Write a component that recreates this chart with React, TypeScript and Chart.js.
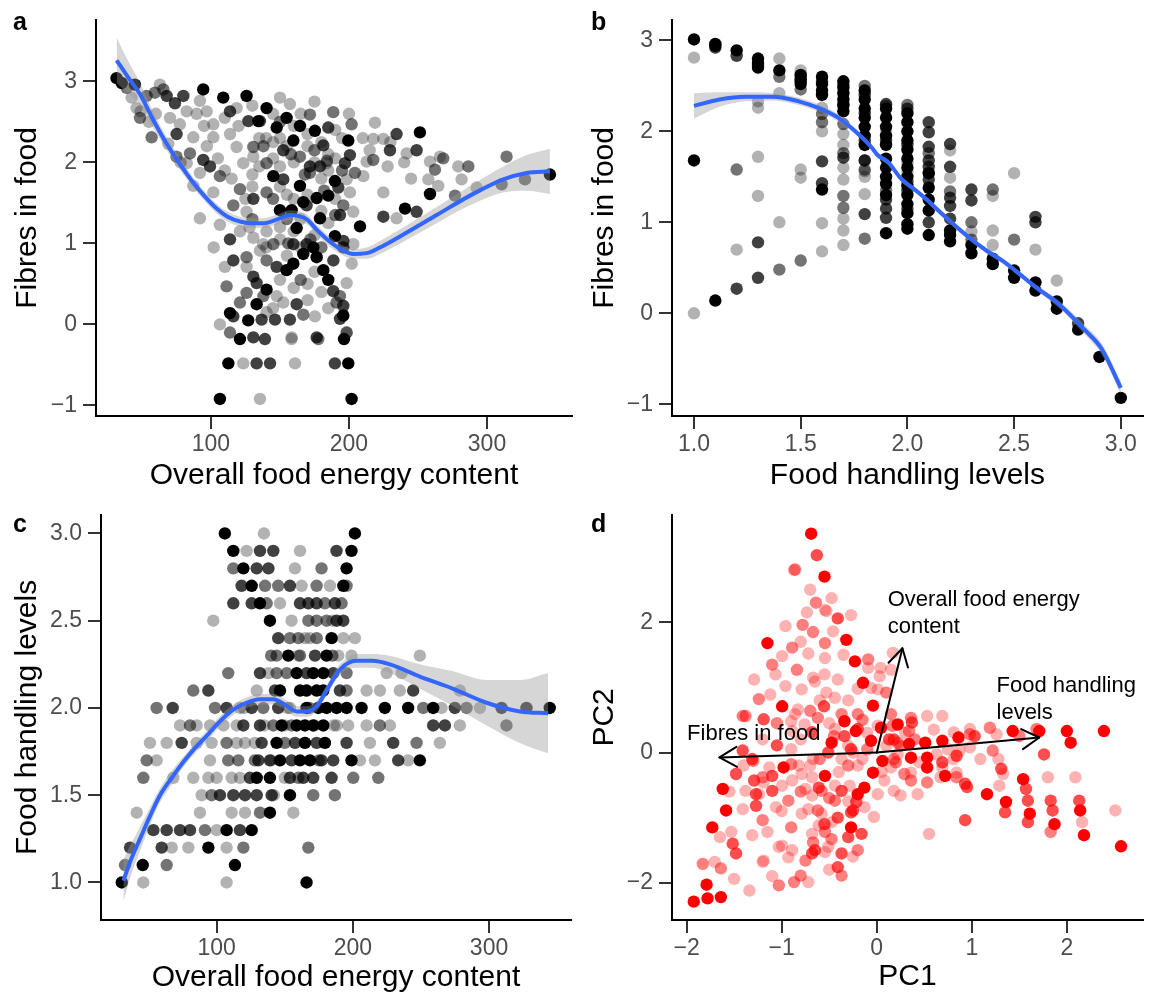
import React, { useEffect, useRef } from "react";
import { Chart, registerables } from "chart.js";

Chart.register(...registerables);

type Pt = [number, number];
const FONT = '"Liberation Sans", Arial, Helvetica, sans-serif';
Chart.defaults.font.family = FONT;

// ---------------- Panel a : Overall food energy content vs Fibres in food ----------------
const aBlack: Pt[] = [[31.6,3.04],[35.3,2.98],[44.9,2.96],[94.4,2.9],[108.9,2.8],[125.8,2.82],[140.3,2.67],[134.3,2.51],[147.6,2.43],[154.8,2.55],[164.5,2.45],[175.3,2.39],[159.7,2.27],[199.5,2.27],[189.8,1.77],[145.2,1.83],[164.5,1.71],[166.9,1.51],[176.6,1.56],[185,1.59],[158.5,1.41],[150,1.41],[179,1.31],[162.1,1.19],[189.8,1.09],[208,1.21],[174.2,0.95],[166.9,0.87],[176.6,0.83],[159.7,0.75],[154.8,0.67],[181.4,0.67],[185,0.55],[140.3,0.43],[133.1,0.25],[195.9,0.11],[113.8,0.14],[127,0.05],[121,-0.18],[196.4,-0.18],[112.6,-0.48],[199.5,-0.48],[106.5,-0.92],[201.9,-0.92],[251.4,2.37],[258.7,1.61],[345.6,1.85],[240.6,1.43]];
const aDark: Pt[] = [[67.9,2.82],[73.9,2.73],[80,2.82],[75.1,2.35],[94.4,2.03],[99.3,1.95],[113.8,2.63],[130.7,1.55],[127.1,2.51],[135.5,2.51],[152.4,2.15],[179,1.95],[152.4,1.79],[169.3,1.47],[169.3,0.99],[147.6,0.71],[130.7,0.59],[133.1,0.51],[116.2,0.1],[130.7,-0.16],[139.1,-0.18],[146.4,0.06],[157.2,0.06],[176.6,-0.16],[133.1,-0.48],[142.8,-0.48],[113.8,1.05],[116.2,0.79],[185,2.43],[181.4,2.21],[200.7,2.09],[197.1,1.99],[171.7,1.95],[195.9,0.95],[188.6,0.41],[162.1,0.25],[193.5,0.07],[136.7,0.06],[189.8,-0.48],[234.5,2.35],[229.7,2.15],[249,2.15],[224.9,1.33],[249,1.39],[193.5,1.35],[195.9,1.03],[188.7,0.79],[159.7,0.99],[192.3,1.69],[195.9,0.23]];
const aMid: Pt[] = [[38.9,2.92],[53.4,2.82],[48.6,2.55],[57,2.31],[59.4,2.86],[65.5,2.9],[84.8,2.11],[106.5,1.83],[121,1.67],[116.2,1.47],[140.3,1.63],[171.7,2.59],[130.7,2.19],[140.3,1.99],[164.5,2.07],[171.7,1.87],[140.3,0.79],[145.2,0.99],[125.8,0.83],[125.8,0.39],[121,0.27],[113.8,-0.1],[166.9,0.12],[188.6,2.62],[201.9,2.47],[191,0.27],[177.8,-0.18],[198.3,-0.1],[217.6,2.03],[204.3,1.87],[262.3,1.91],[268.3,2.05],[286.5,1.95],[276.8,1.59],[314.2,2.07],[310.6,1.73],[327.5,1.79],[193.5,0.35],[75,2.07],[111.3,0.47],[195.9,1.47],[184,2.02],[156,1.0],[138,0.35],[150,2.5],[158,2.1],[168,1.85],[182,1.65],[190,1.35],[172,1.05],[155,1.3],[145,1.55],[138,2.2],[175,2.15],[195,1.9],[165,0.55],[180,0.95],[130,1.3]];
const aLight: Pt[] = [[42.5,2.8],[46.1,2.67],[63,2.96],[70.3,2.55],[77.5,2.47],[69.1,2.23],[87.2,2.31],[82.4,1.99],[92,2.76],[89.6,2.6],[96.9,2.63],[101.7,2.47],[87.2,1.71],[92,1.31],[113.8,2.35],[118.6,2.67],[130.7,2.07],[118.6,2.19],[123.4,1.99],[137.9,0.99],[130.7,1.07],[140.3,1.15],[106.5,0.0],[158.5,-0.16],[123.4,-0.48],[160.9,-0.48],[135.5,-0.92],[110.1,0.71],[157.2,2.72],[218.8,2.49],[175.3,0.1],[158.4,-0.18],[217.6,2.29],[224.9,2.29],[241.8,2.11],[212.8,2.01],[210.4,1.83],[224.9,1.63],[258.7,2.01],[265.9,2.07],[257.5,1.79],[264.7,1.71],[279.2,1.95],[281.6,1.79],[292.5,1.69],[234.5,1.31],[202,0.75],[49,2.63],[82.4,2.63],[101.7,2.31],[92,1.87],[101.7,1.63],[125.8,1.39],[106.5,1.23],[121,1.15],[135.5,0.91],[125.8,0.71],[147.6,0.35],[140.3,0.15],[152.4,0.27],[183.8,1.99],[198.3,1.79],[200.7,1.63],[203.1,1.39],[203.1,0.99],[198.3,0.51],[198.3,-0.1],[150,2.3],[160,2.0],[170,2.2],[145,2.6],[135,2.3],[155,1.6],[180,1.8],[185,2.1],[175,1.1],[150,1.2],[165,1.3],[190,2.4],[110,1.9],[120,2.45],[55,2.5],[60,2.6],[78,2.0],[97,2.2],[130,1.85],[145,2.25],[170,0.5],[190,1.55],[102,0.95],[128,1.2],[210,2.3],[230,2.25],[145,2.05],[150,1.95],[155,2.2],[160,2.45],[165,2.6],[170,2.35],[175,2.0],[180,2.25],[185,1.9],[190,2.05],[195,2.3],[140,2.3],[135,1.95],[130,1.7],[150,1.7],[160,1.55],[170,1.6],[180,1.4],[185,1.25],[160,1.15],[150,1.05],[165,0.95],[140,0.95],[155,0.85],[175,0.65],[150,0.55],[160,0.45],[180,0.4],[145,0.2],[170,0.3],[185,0.2],[125,1.55],[115,1.8],[105,2.05],[95,2.45],[110,2.55],[130,2.7],[150,2.8],[175,2.75],[200,2.6],[215,2.15],[228,1.95],[245,1.8],[240,2.0]];
const aSmoothX = [31.6,40,48.6,58,67.9,77.5,87.2,95.5,104.1,112,121,129,137.9,147,157.2,163,169.3,176.6,186.2,195.9,203.1,212.8,222.4,239.4,263.5,287.7,311.8,328.7,345.6];
const aSmoothY = [3.26,3.05,2.84,2.53,2.23,1.98,1.75,1.58,1.43,1.33,1.27,1.25,1.25,1.29,1.35,1.34,1.30,1.17,1.02,0.91,0.87,0.88,0.95,1.11,1.35,1.59,1.79,1.87,1.89];
const aSmoothLo = [2.98,2.85,2.70,2.43,2.15,1.91,1.69,1.52,1.37,1.27,1.21,1.19,1.19,1.23,1.29,1.28,1.24,1.11,0.96,0.85,0.81,0.81,0.87,1.02,1.25,1.47,1.63,1.65,1.61];
const aSmoothHi = [3.54,3.25,2.98,2.63,2.31,2.05,1.81,1.64,1.49,1.39,1.33,1.31,1.31,1.35,1.41,1.40,1.36,1.23,1.08,0.97,0.93,0.95,1.03,1.20,1.45,1.71,1.95,2.09,2.17];

// ---------------- Panel b : Food handling levels vs Fibres in food ----------------
const bBlack: Pt[] = [[1.0,3.01],[1.0,1.68],[1.1,2.96],[1.1,2.94],[1.1,0.14],[1.2,2.89],[1.3,2.8],[1.3,2.75],[1.3,2.7],[1.4,2.67],[1.5,2.62],[1.5,2.57],[1.5,2.52],[1.6,2.6],[1.6,2.52],[1.6,2.45],[1.6,2.4],[1.6,1.36],[1.7,2.55],[1.7,2.48],[1.7,2.42],[1.7,2.35],[1.7,2.28],[1.7,2.22],[1.8,2.45],[1.8,2.35],[1.8,2.25],[1.8,2.15],[1.8,2.05],[1.8,1.95],[1.8,1.85],[1.9,2.25],[1.9,2.15],[1.9,2.05],[1.9,1.95],[1.9,1.85],[1.9,1.7],[1.9,1.6],[1.9,1.5],[1.9,1.42],[1.9,1.3],[1.9,0.88],[2.0,2.2],[2.0,2.1],[2.0,2.0],[2.0,1.9],[2.0,1.8],[2.0,1.7],[2.0,1.6],[2.0,1.5],[2.0,1.4],[2.0,1.3],[2.0,1.2],[2.0,1.1],[2.0,0.98],[2.0,0.93],[2.1,1.54],[2.1,1.38],[2.1,1.25],[2.1,1.13],[2.1,0.86],[2.2,0.91],[2.2,0.86],[2.2,0.79],[2.3,0.75],[2.3,0.66],[2.4,0.6],[2.4,0.54],[2.5,0.47],[2.5,0.39],[2.6,0.34],[2.6,0.25],[2.7,0.13],[2.7,0.05],[2.8,-0.18],[2.9,-0.48],[3.0,-0.93]];
const bDark: Pt[] = [[1.1,2.92],[1.2,2.83],[1.2,0.27],[1.3,0.78],[1.3,0.39],[1.3,2.72],[1.5,2.55],[1.5,2.6],[1.6,2.55],[1.6,1.67],[1.6,1.43],[1.7,1.71],[1.7,2.5],[1.7,2.3],[1.8,1.09],[1.8,2.4],[1.8,2.2],[1.8,1.9],[1.8,1.68],[1.9,1.25],[1.9,1.15],[1.9,1.05],[1.9,2.3],[1.9,1.9],[2.0,2.25],[2.0,1.85],[2.0,1.45],[2.0,1.15],[2.0,1.35],[2.1,2.1],[2.1,1.99],[2.1,1.83],[2.1,1.68],[2.1,1.0],[2.1,1.61],[2.1,1.47],[2.2,1.86],[2.2,1.61],[2.2,1.27],[2.2,1.18],[2.2,1.04],[2.3,1.36],[2.3,1.24],[2.6,1.06],[2.6,1.0],[2.8,-0.11]];
const bMid: Pt[] = [[1.2,1.58],[1.4,2.6],[1.4,0.48],[1.5,2.46],[1.5,0.58],[1.6,2.19],[1.6,2.1],[1.7,2.08],[1.7,1.76],[1.7,1.29],[1.7,1.16],[1.8,1.68],[1.8,1.58],[1.8,0.82],[1.8,2.5],[1.9,2.28],[1.9,1.35],[2.0,2.29],[2.1,1.76],[2.2,1.34],[2.3,1.0],[2.3,0.81],[2.4,1.36],[2.5,0.81]];
const bLight: Pt[] = [[1.0,2.81],[1.0,0.0],[1.2,0.7],[1.3,2.33],[1.3,2.26],[1.3,1.72],[1.3,1.29],[1.4,2.8],[1.4,2.42],[1.4,1.0],[1.5,2.67],[1.5,1.58],[1.5,1.49],[1.6,2.26],[1.6,2.0],[1.6,0.99],[1.6,0.68],[1.7,1.97],[1.7,1.85],[1.7,1.6],[1.7,1.47],[1.7,1.04],[1.7,0.91],[1.7,0.75],[1.8,1.56],[1.8,1.31],[1.8,1.5],[1.9,1.45],[1.9,2.0],[2.0,1.55],[2.0,1.65],[2.1,1.55],[2.2,1.79],[2.2,1.49],[2.3,0.9],[2.4,1.29],[2.4,0.91],[2.4,0.75],[2.5,1.54],[2.6,0.7],[2.7,0.36]];
const bSmoothX = [1.0,1.12,1.24,1.37,1.49,1.58,1.675,1.77,1.83,1.86,1.91,1.97,2.04,2.09,2.14,2.22,2.29,2.37,2.45,2.5,2.6,2.71,2.83,2.91,3.0];
const bSmoothY = [2.28,2.35,2.38,2.38,2.33,2.26,2.15,1.97,1.83,1.74,1.66,1.48,1.35,1.25,1.14,0.97,0.83,0.69,0.57,0.48,0.29,0.10,-0.18,-0.39,-0.82];
const bSmoothLo = [2.14,2.27,2.33,2.34,2.29,2.22,2.11,1.94,1.80,1.71,1.63,1.45,1.32,1.22,1.11,0.94,0.80,0.66,0.54,0.45,0.26,0.06,-0.23,-0.45,-0.89];
const bSmoothHi = [2.42,2.43,2.43,2.42,2.37,2.30,2.19,2.00,1.86,1.77,1.69,1.51,1.38,1.28,1.17,1.00,0.86,0.72,0.60,0.51,0.32,0.14,-0.13,-0.33,-0.75];

// ---------------- Panel c : Overall food energy content vs Food handling levels ----------------
const cBlack: Pt[] = [[106,3.0],[201.5,3.0],[112.2,2.9],[199,2.9],[119.6,2.8],[195.4,2.8],[125.7,2.7],[193,2.7],[131.8,2.6],[139.1,2.5],[184.4,2.4],[152.6,2.3],[180.7,2.3],[158.7,2.2],[170.9,2.2],[178.3,2.2],[146.5,2.1],[161.2,2.1],[166,2.1],[173.4,2.1],[178.3,2.1],[166,2.0],[174.6,2.0],[180.7,2.0],[188.1,2.0],[195.4,2.0],[206.4,2.0],[223.5,2.0],[240.6,2.0],[259,2.0],[344.6,2.0],[147.7,1.9],[158.7,1.9],[164.8,1.9],[170.9,1.9],[178.3,1.9],[144,1.8],[164.8,1.8],[179.5,1.8],[146.5,1.7],[161.2,1.7],[168.5,1.7],[199,1.7],[249.2,1.7],[129.4,1.6],[139.1,1.6],[153.8,1.5],[139.1,1.4],[107.3,1.3],[125.7,1.3],[93.9,1.2],[45.7,1.1],[113.4,1.1],[30.3,1.0],[166,1.0]];
const cDark: Pt[] = [[131.8,2.9],[141.6,2.9],[188,2.9],[129.4,2.8],[138,2.8],[118.3,2.7],[153.8,2.7],[112.2,2.6],[125.7,2.6],[161.2,2.6],[167.3,2.6],[173.4,2.6],[186.8,2.6],[188.1,2.5],[193,2.5],[145.2,2.4],[172.2,2.3],[131.8,2.2],[166,2.2],[185.6,2.2],[93.9,2.1],[142.8,2.1],[190.5,2.1],[244.3,2.1],[67.7,2.0],[107.3,2.0],[125.7,2.0],[145.2,2.0],[274.9,2.0],[309.2,2.0],[327.5,2.0],[119.6,1.9],[131.8,1.9],[259,1.9],[267.6,1.9],[74.3,1.8],[133,1.8],[157.5,1.8],[173.4,1.8],[195.4,1.8],[229.6,1.8],[130.6,1.7],[139.1,1.7],[155,1.7],[177,1.7],[185.6,1.7],[233.3,1.7],[124.4,1.6],[153.8,1.6],[163.6,1.6],[170.9,1.6],[184.4,1.6],[102.4,1.5],[112.2,1.5],[120.8,1.5],[129.4,1.5],[140.4,1.5],[53.5,1.3],[63.3,1.3],[73.1,1.3],[80.4,1.3],[117.1,1.3],[36.4,1.2],[59.6,1.2]];
const cMid: Pt[] = [[112.2,2.8],[177,2.8],[135.5,2.7],[145.2,2.7],[173.4,2.7],[195.4,2.7],[136.7,2.6],[179.5,2.6],[191.7,2.6],[167.3,2.5],[173.4,2.5],[180.7,2.5],[153.8,2.4],[160,2.4],[173.4,2.4],[144,2.3],[161.2,2.3],[108.5,2.2],[144,2.2],[151.4,2.2],[195.4,2.2],[82.8,2.1],[195.4,2.1],[55.9,2.0],[98.8,2.0],[134.2,2.0],[251.7,2.0],[283.5,2.0],[80.4,1.9],[141.6,1.9],[219.8,1.9],[312.8,1.9],[107.3,1.8],[246.8,1.8],[48.6,1.7],[108.5,1.7],[115.9,1.7],[46.1,1.6],[200.3,1.6],[218.7,1.6],[96.3,1.5],[170.9,1.5],[186.8,1.5],[131.8,1.4],[91.4,1.3],[119.6,1.2],[167.3,1.2],[32.7,1.1],[63.3,1.1],[155,1.9],[168,2.0],[150,1.8],[160,1.6],[185,2.3],[140,2.3],[175,1.7],[128,1.7]];
const cLight: Pt[] = [[134.7,3.0],[122,2.9],[161.2,2.9],[157.5,2.8],[162.4,2.7],[183.2,2.7],[146.5,2.6],[97.5,2.5],[168.5,2.4],[193,2.4],[201.5,2.4],[189.3,2.3],[199,2.3],[249.2,2.3],[224.8,2.2],[235.8,2.2],[129.4,2.1],[210.1,2.1],[219.9,2.1],[234.5,2.1],[278.6,2.1],[117.1,2.0],[153.8,2.0],[265.1,2.0],[293.3,2.0],[73.1,1.9],[85.3,1.9],[95.1,1.9],[114.7,1.9],[188.1,1.9],[196.6,1.9],[210.1,1.9],[227.2,1.9],[278.6,1.9],[51,1.8],[63.3,1.8],[85.3,1.8],[96.3,1.8],[114.7,1.8],[120.8,1.8],[212.5,1.8],[263.9,1.8],[55.9,1.7],[95.1,1.7],[205.2,1.7],[216.2,1.7],[240.6,1.7],[68.2,1.6],[82.8,1.6],[93.9,1.6],[111,1.6],[117.1,1.6],[89,1.5],[41.3,1.4],[87.7,1.4],[111,1.4],[120.8,1.4],[156.3,1.4],[100,1.3],[67,1.2],[79.2,1.2],[107.3,1.2],[46.1,1.0],[107.3,1.0],[135,1.9],[150,1.9],[140,1.7],[152,2.0],[160,2.3],[165,2.4],[138,2.2],[128,1.8],[120,2.0],[185,2.5],[155,2.5],[142,1.5],[165,1.8],[186,1.9],[150,1.6],[105,1.9],[100,1.6],[172,1.9]];
const cSmoothX = [31.5,37,43.7,51,58.4,67,75.5,84,92.7,102,112.2,122,131.8,141.6,150,158.7,166,173.4,180.7,190.5,202.8,214,227.2,249.2,273.7,298.2,322.6,343.4];
const cSmoothY = [1.01,1.13,1.25,1.38,1.50,1.60,1.69,1.77,1.84,1.92,1.99,2.03,2.05,2.05,2.02,1.98,1.98,2.01,2.10,2.22,2.27,2.27,2.25,2.18,2.11,2.03,1.98,1.97];
const cSmoothLo = [0.89,1.04,1.18,1.33,1.46,1.56,1.66,1.74,1.81,1.89,1.96,2.00,2.02,2.02,1.99,1.95,1.95,1.98,2.07,2.19,2.23,2.23,2.20,2.11,2.01,1.90,1.80,1.74];
const cSmoothHi = [1.13,1.22,1.32,1.43,1.54,1.64,1.72,1.80,1.87,1.95,2.02,2.06,2.08,2.08,2.05,2.01,2.01,2.04,2.13,2.25,2.31,2.31,2.30,2.25,2.21,2.16,2.16,2.20];

// ---------------- Panel d : PCA biplot ----------------
const dFull: Pt[] = [[-0.69,3.36],[-0.55,2.70],[-1.15,1.68],[-0.995,0.71],[-1.62,-0.56],[-1.585,-0.89],[-1.73,-1.15],[-1.79,-2.03],[-1.78,-2.24],[-1.925,-2.29],[-1.64,-2.22],[-0.98,-0.23],[-0.545,-0.36],[-0.475,0.15],[-0.34,0.48],[-0.22,0.33],[-0.06,0.18],[0.045,0.38],[0.22,0.43],[0.34,0.13],[0.51,0.15],[0.69,0.18],[0.86,0.23],[0.36,-0.08],[0.53,-0.08],[0.53,-0.23],[0.72,-0.36],[0.06,-0.13],[-0.04,-0.31],[-0.13,-0.54],[-0.2,-0.64],[-0.27,-1.15],[-0.32,1.73],[-0.23,1.40],[-0.145,1.07],[-0.04,0.72],[1.43,0.33],[1.71,0.33],[2.0,0.33],[2.04,0.15],[2.39,0.33],[1.16,-0.64],[1.36,-0.76],[1.54,-0.41],[1.61,-0.94],[1.87,-1.1],[2.14,-0.89],[2.18,-1.27],[2.57,-1.44]];
const dDark: Pt[] = [[-0.63,3.03],[-0.555,0.71],[-1.19,0.51],[-0.68,0.31],[-1.05,0.11],[-1.41,0.03],[-1.31,-0.1],[-1.48,-0.33],[-1.515,-1.40],[-1.48,-1.55],[-1.27,-0.82],[-1.27,-0.64],[-0.68,-1.55],[-1.1,-0.59],[-1.1,-0.36],[-0.61,-0.54],[-0.51,0.0],[-0.55,-1.1],[-0.65,-1.5],[-1.29,-0.43],[-0.25,-0.89],[-0.41,-1.0],[0.93,-1.04],[-0.41,2.06],[-0.37,-0.59],[0.95,-0.53],[-0.37,-1.55],[-0.41,-1.76],[-0.3,-1.3],[-0.2,0.36],[-0.34,0.25],[-0.27,0.05],[0.13,0.2],[0.18,0.2],[0.37,0.46],[1.03,0.25],[0.69,-0.15],[0.84,-0.05],[0.93,-0.48],[-0.16,-1.25],[-0.215,-0.76],[-0.27,-0.92],[1.31,-0.25],[1.35,-0.92],[1.57,-0.56],[1.59,-0.74],[1.59,-1.07],[1.76,-0.03],[1.83,-0.74],[1.85,-0.89],[2.13,-0.74]];
const dMid: Pt[] = [[-0.86,2.81],[-0.64,2.30],[-0.78,1.96],[-0.67,1.85],[-0.545,1.68],[-0.89,1.61],[-1.1,1.35],[-0.84,1.27],[-1.24,0.82],[-0.7,0.64],[-1.41,0.56],[-1.38,0.56],[-1.83,-1.71],[-1.64,-1.78],[-1.2,-1.04],[-1.03,-2.04],[-0.87,-1.99],[-0.8,-1.89],[-0.67,-1.38],[-0.475,-1.33],[-0.545,-1.22],[-0.62,0.53],[-0.9,-0.18],[-1.3,-0.13],[-1.2,-0.38],[-0.93,-0.74],[-0.62,-0.89],[-0.58,-0.59],[-0.9,-1.15],[-0.75,-1.66],[-0.2,0.59],[0.15,0.59],[0.36,0.53],[0.34,0.33],[0.22,0.15],[0.98,0.28],[0.29,-0.33],[0.36,-0.43],[0.84,-0.38],[-0.44,-0.74],[-0.2,-1.5],[-0.37,-1.89],[-0.09,1.43],[0.1,0.92],[0.165,0.41],[0.25,0.1],[0.18,-0.1],[0.53,-0.46],[-0.37,0.59],[1.19,0.38],[1.5,0.25],[1.68,0.36],[1.22,0.03],[1.83,-1.22],[-0.1,0.05],[-0.3,-0.2],[0.2,-0.15],[-0.45,0.25],[-0.15,0.5],[0.4,0.2],[-0.6,-0.1],[-0.8,-0.6],[-1.05,0.45],[-0.5,-0.7]];
const dLight: Pt[] = [[-0.475,2.37],[-0.735,2.15],[-0.545,2.19],[-0.46,1.86],[-0.96,1.94],[-0.995,1.48],[-0.545,1.45],[-1.29,1.12],[-1.065,1.2],[-0.67,1.15],[-0.96,1.02],[-0.79,0.97],[-0.53,0.92],[-0.86,0.59],[-0.89,0.33],[-1.705,-1.68],[-1.53,-1.22],[-1.5,-1.94],[-1.34,-2.12],[-1.41,-0.87],[-1.31,-1.27],[-1.15,-1.22],[-1.2,-1.68],[-0.72,-1.99],[-0.995,-1.43],[-0.89,-1.5],[-0.545,-1.53],[-0.61,-1.12],[-0.475,-1.07],[-0.58,-0.94],[-0.68,-0.66],[-0.72,-0.87],[-0.995,-0.51],[-0.89,-0.43],[-1.19,-0.46],[-0.75,-0.56],[-0.82,-0.2],[-0.67,-0.1],[-0.87,2.8],[-0.53,2.17],[-0.72,1.52],[-0.65,1.09],[-1.12,0.89],[-0.83,0.66],[-0.9,0.48],[-0.76,0.43],[-1.13,-0.23],[-0.68,-0.38],[-0.79,-0.33],[-1.38,-0.59],[-1.24,-0.64],[-1.06,-0.84],[-0.79,-0.94],[-0.68,-1.25],[-0.51,-1.45],[-1.03,-1.45],[-1.19,-1.66],[-0.93,-1.61],[-0.27,2.11],[-0.09,1.30],[0.04,1.3],[-0.06,0.99],[-0.41,1.12],[-0.44,0.84],[0.53,0.56],[0.69,0.56],[0.98,0.08],[0.63,-0.03],[0.87,0.03],[0.81,-0.1],[0.22,-0.03],[0.15,-0.23],[0.18,-0.59],[0.43,-0.64],[0.67,-0.38],[0.69,-0.23],[0.08,-0.43],[0.01,-0.64],[-0.13,-0.84],[-0.03,-0.99],[0.55,-1.25],[0.15,1.27],[0.01,0.97],[0.03,1.17],[0.17,1.53],[0.81,0.31],[0.98,0.36],[0.36,-0.31],[0.84,-0.31],[0.25,-0.66],[-0.44,0.36],[0.01,0.41],[-0.37,-0.1],[-0.44,-0.51],[-0.285,-0.51],[-0.2,0.98],[-0.3,0.8],[1.26,0.28],[1.09,-0.1],[1.28,-0.1],[1.29,-0.51],[1.8,-0.38],[2.09,-0.38],[2.16,-1.07],[2.51,-0.89],[1.33,-0.33],[-0.6,0.8],[-0.8,0.2],[-0.4,-0.3],[-0.2,-0.2],[-0.1,0.3],[0.1,0.1],[-0.3,0.1],[-0.5,0.45],[-0.7,-0.2],[-0.9,0.05],[-1.0,-0.9],[-0.3,-0.75],[0.3,0.3],[0.45,-0.15],[0.6,0.35],[0.75,0.05],[-0.15,-0.1],[-0.55,1.2],[-0.35,1.5],[-0.8,1.7],[-0.7,2.5],[-0.25,0.0],[0.05,-0.3],[-1.2,0.2],[-1.4,-0.2],[-1.55,-0.6],[-1.65,-1.3],[-1.1,-1.9],[-0.5,-1.8],[-0.25,-1.6]];
// loadings (arrow tips) and their label text
const loadingNames = [["Fibres in food"], ["Overall food energy", "content"], ["Food handling", "levels"]];
const loadingPC1 = [-1.655, 0.27, 1.71];
const loadingPC2 = [-0.076, 1.6, 0.23];
const loadingLabelPC1 = [-1.995, 0.115, 1.26];
const loadingLabelPC2 = [0.29, 2.345, 1.02];

// ---------------- Axes ----------------
const energyTicks = [100, 200, 300];
const energyLabels = ["100", "200", "300"];
const fibreTicks = [-1, 0, 1, 2, 3];
const fibreLabels = ["\u22121", "0", "1", "2", "3"];
const handlingTicks = [1.0, 1.5, 2.0, 2.5, 3.0];
const handlingLabels = ["1.0", "1.5", "2.0", "2.5", "3.0"];
const pc1Ticks = [-2, -1, 0, 1, 2];
const pc1Labels = ["\u22122", "\u22121", "0", "1", "2"];
const pc2Ticks = [-2, 0, 2];
const pc2Labels = ["\u22122", "0", "2"];

interface AxisSpec { min: number; max: number; ticks: number[]; labels: string[]; title: string; titlePad: number; }
interface Area { l: number; r: number; t: number; b: number; }
interface PanelSpec {
  left: number; top: number; width: number; height: number; area: Area;
  x: AxisSpec; y: AxisSpec; build: () => any[]; plugins?: any[];
}

const toXY = (pts: Pt[]) => pts.map(([x, y]) => ({ x, y }));

function pointSet(pts: Pt[], color: string) {
  return { type: "scatter", data: toXY(pts), backgroundColor: color, borderWidth: 0, pointRadius: 6.2, pointHoverRadius: 6.2 };
}

function smoothSets(xs: number[], ys: number[], lo: number[], hi: number[]) {
  const mk = (arr: number[]) => xs.map((x, i) => ({ x, y: arr[i] }));
  return [
    { type: "line", data: mk(ys), borderColor: "#3366FF", borderWidth: 4, pointRadius: 0, cubicInterpolationMode: "monotone", fill: false },
    { type: "line", data: mk(hi), borderColor: "rgba(0,0,0,0)", borderWidth: 0, pointRadius: 0, cubicInterpolationMode: "monotone", fill: "+1", backgroundColor: "rgba(153,153,153,0.4)" },
    { type: "line", data: mk(lo), borderColor: "rgba(0,0,0,0)", borderWidth: 0, pointRadius: 0, cubicInterpolationMode: "monotone", fill: false },
  ];
}

const grey = (a: number) => `rgba(0,0,0,${a})`;
const red = (a: number) => `rgba(255,0,0,${a})`;

function scaleCfg(ax: AxisSpec, horizontal: boolean, fit: number) {
  return {
    type: "linear",
    position: horizontal ? "bottom" : "left",
    min: ax.min,
    max: ax.max,
    afterBuildTicks: (s: any) => { s.ticks = ax.ticks.map((v) => ({ value: v })); },
    afterFit: (s: any) => { if (horizontal) s.height = fit; else s.width = fit; },
    grid: { display: true, drawOnChartArea: false, drawTicks: true, tickLength: 13, tickWidth: 2, tickColor: "#333333", color: "#333333", lineWidth: 2 },
    border: { display: true, color: "#000000", width: 2 },
    ticks: {
      autoSkip: false, maxRotation: 0, minRotation: 0,
      padding: horizontal ? 2 : 6,
      color: "#4d4d4d",
      font: { size: 23, family: FONT },
      callback: (_v: any, i: number) => ax.labels[i],
    },
    title: {
      display: true, text: ax.title, color: "#000000",
      font: { size: 30, family: FONT },
      padding: horizontal ? { top: 0, bottom: ax.titlePad } : { top: ax.titlePad, bottom: 0 },
    },
  };
}

const biplotPlugin = {
  id: "biplotArrows",
  afterDatasetsDraw(chart: any) {
    const { ctx, scales } = chart;
    const sx = scales.x, sy = scales.y;
    const ox = sx.getPixelForValue(0), oy = sy.getPixelForValue(0);
    ctx.save();
    ctx.strokeStyle = "#000";
    ctx.lineWidth = 2;
    ctx.lineCap = "round";
    ctx.lineJoin = "round";
    loadingPC1.forEach((v, i) => {
      const tx = sx.getPixelForValue(v), ty = sy.getPixelForValue(loadingPC2[i]);
      ctx.beginPath(); ctx.moveTo(ox, oy); ctx.lineTo(tx, ty); ctx.stroke();
      const ang = Math.atan2(ty - oy, tx - ox);
      const L = 20, phi = Math.PI / 6;
      ctx.beginPath();
      ctx.moveTo(tx - L * Math.cos(ang - phi), ty - L * Math.sin(ang - phi));
      ctx.lineTo(tx, ty);
      ctx.lineTo(tx - L * Math.cos(ang + phi), ty - L * Math.sin(ang + phi));
      ctx.stroke();
    });
    ctx.fillStyle = "#000";
    ctx.font = `22px ${FONT}`;
    ctx.textAlign = "left";
    ctx.textBaseline = "middle";
    loadingNames.forEach((lines, i) => {
      const lx = sx.getPixelForValue(loadingLabelPC1[i]);
      const ly = sy.getPixelForValue(loadingLabelPC2[i]);
      lines.forEach((t, k) => ctx.fillText(t, lx, ly + k * 27));
    });
    ctx.restore();
  },
};

const panels: PanelSpec[] = [
  {
    left: 0, top: 0, width: 580, height: 495, area: { l: 96, r: 572, t: 10, b: 416 },
    x: { min: 16.7, max: 361.6, ticks: energyTicks, labels: energyLabels, title: "Overall food energy content", titlePad: 1 },
    y: { min: -1.13, max: 3.76, ticks: fibreTicks, labels: fibreLabels, title: "Fibres in food", titlePad: 10 },
    build: () => [
      ...smoothSets(aSmoothX, aSmoothY, aSmoothLo, aSmoothHi),
      pointSet(aLight, grey(0.3)), pointSet(aMid, grey(0.55)), pointSet(aDark, grey(0.75)), pointSet(aBlack, grey(1)),
    ],
  },
  {
    left: 580, top: 0, width: 569, height: 495, area: { l: 92, r: 568, t: 10, b: 416 },
    x: { min: 0.897, max: 3.103, ticks: handlingTicks, labels: handlingLabels, title: "Food handling levels", titlePad: 1 },
    y: { min: -1.129, max: 3.226, ticks: fibreTicks, labels: fibreLabels, title: "Fibres in food", titlePad: 7 },
    build: () => [
      ...smoothSets(bSmoothX, bSmoothY, bSmoothLo, bSmoothHi),
      pointSet(bLight, grey(0.3)), pointSet(bMid, grey(0.55)), pointSet(bDark, grey(0.75)), pointSet(bBlack, grey(1)),
    ],
  },
  {
    left: 0, top: 495, width: 580, height: 501, area: { l: 101, r: 571, t: 18, b: 425 },
    x: { min: 15.05, max: 360.2, ticks: energyTicks, labels: energyLabels, title: "Overall food energy content", titlePad: 0 },
    y: { min: 0.785, max: 3.107, ticks: handlingTicks, labels: handlingLabels, title: "Food handling levels", titlePad: 10 },
    build: () => [
      ...smoothSets(cSmoothX, cSmoothY, cSmoothLo, cSmoothHi),
      pointSet(cLight, grey(0.3)), pointSet(cMid, grey(0.55)), pointSet(cDark, grey(0.75)), pointSet(cBlack, grey(1)),
    ],
  },
  {
    left: 580, top: 495, width: 569, height: 501, area: { l: 92, r: 568, t: 18, b: 425 },
    x: { min: -2.154, max: 2.799, ticks: pc1Ticks, labels: pc1Labels, title: "PC1", titlePad: 1 },
    y: { min: -2.572, max: 3.65, ticks: pc2Ticks, labels: pc2Labels, title: "PC2", titlePad: 7 },
    build: () => [
      pointSet(dLight, red(0.3)), pointSet(dMid, red(0.5)), pointSet(dDark, red(0.7)), pointSet(dFull, red(1)),
    ],
    plugins: [biplotPlugin],
  },
];

function Panel({ spec }: { spec: PanelSpec }) {
  const ref = useRef<HTMLCanvasElement | null>(null);
  useEffect(() => {
    if (!ref.current) return;
    const { width, height, area } = spec;
    const chart = new Chart(ref.current, {
      type: "scatter",
      data: { datasets: spec.build() as any },
      options: {
        animation: false,
        responsive: false,
        maintainAspectRatio: false,
        devicePixelRatio: 1,
        events: [],
        layout: { padding: { left: 0, top: area.t, right: width - area.r, bottom: 0 } },
        plugins: { legend: { display: false }, tooltip: { enabled: false } },
        scales: {
          x: scaleCfg(spec.x, true, height - area.b),
          y: scaleCfg(spec.y, false, area.l),
        } as any,
      } as any,
      plugins: spec.plugins || [],
    } as any);
    return () => chart.destroy();
  }, []);
  return (
    <canvas
      ref={ref}
      width={spec.width}
      height={spec.height}
      style={{ position: "absolute", left: spec.left, top: spec.top, width: spec.width, height: spec.height }}
    />
  );
}

const panelLetters = ["a", "b", "c", "d"];
const letterPos: [number, number][] = [[13, 9], [591, 9], [13, 511], [591, 511]];

export default function App() {
  return (
    <div style={{ position: "absolute", left: 0, top: 0, width: 1149, height: 996, background: "#fff", overflow: "hidden" }}>
      {panels.map((p, i) => <Panel key={i} spec={p} />)}
      {panelLetters.map((t, i) => (
        <div
          key={t}
          style={{ position: "absolute", left: letterPos[i][0], top: letterPos[i][1], font: `bold 25px ${FONT}`, lineHeight: "25px", color: "#000" }}
        >
          {t}
        </div>
      ))}
    </div>
  );
}
